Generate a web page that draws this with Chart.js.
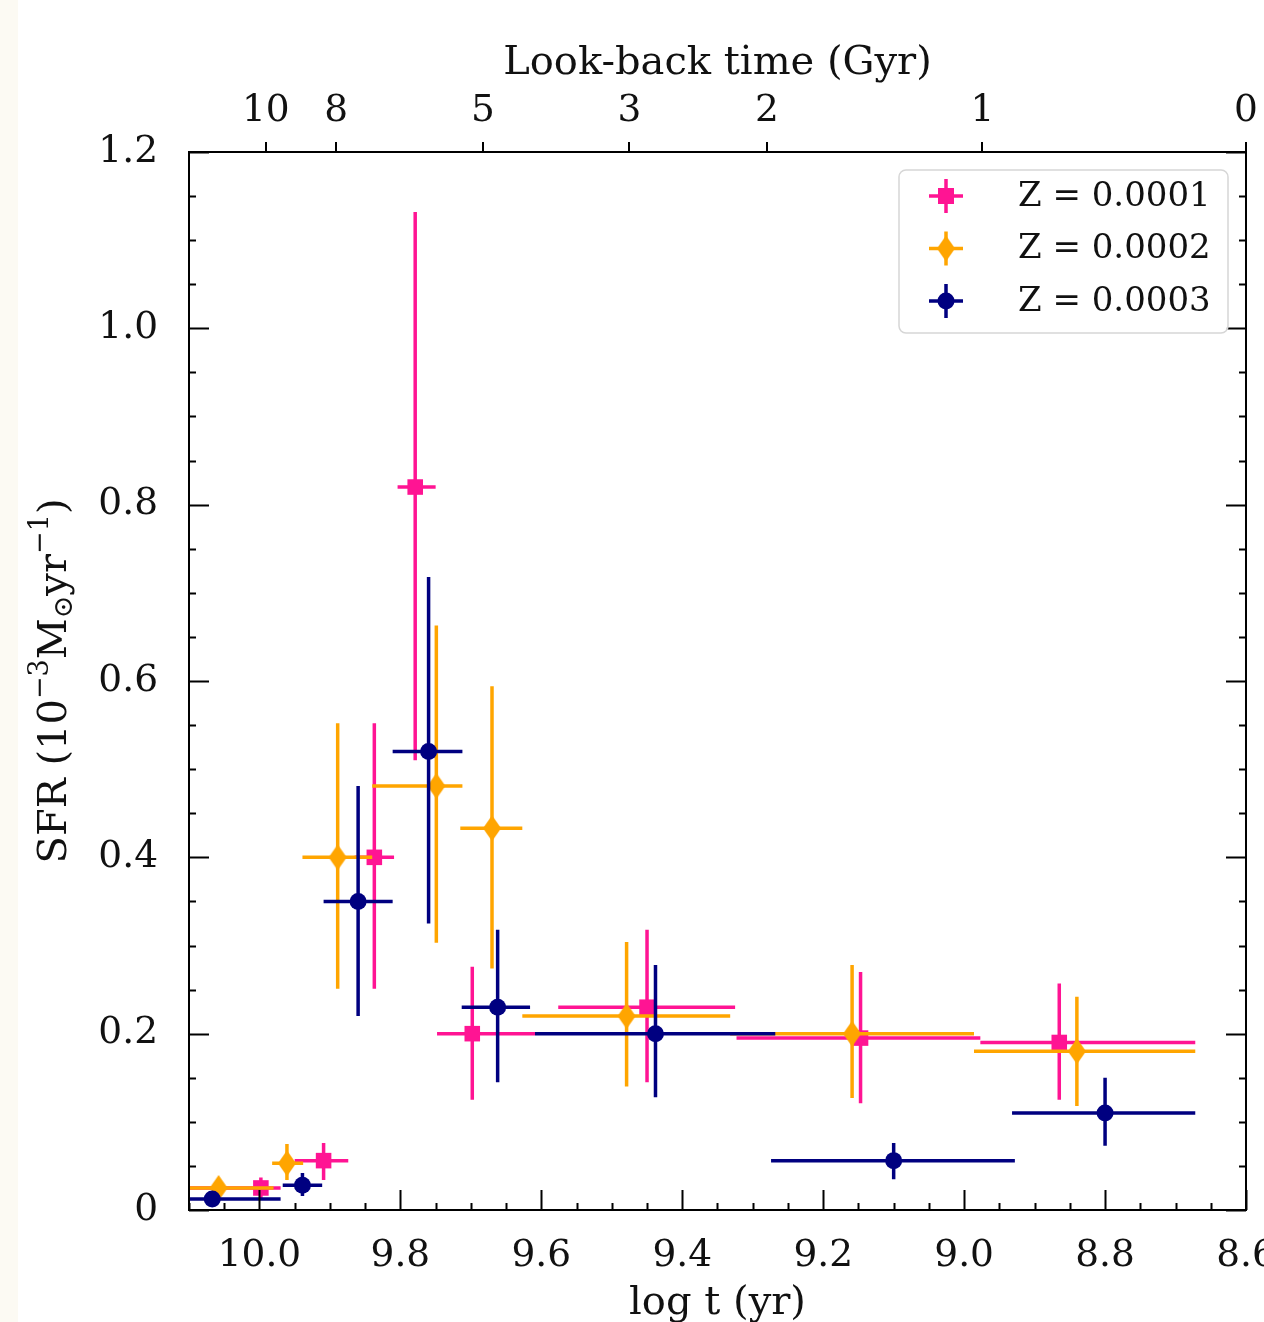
<!DOCTYPE html>
<html>
<head>
<meta charset="utf-8">
<script src="https://cdn.jsdelivr.net/npm/chart.js@4.4.1/dist/chart.umd.min.js"></script>
<style>
body{margin:0;background:#fff;overflow:hidden;}
#edge{position:absolute;left:0;top:0;width:18px;height:1322px;background:#fcfaf3;}
#wrap{position:relative;width:1264px;height:1322px;}
</style>
</head>
<body>
<div id="edge"></div>
<div id="wrap"><canvas id="sfr"></canvas></div>
<script>
var FONT = "'DejaVu Serif', serif";

//////////////////////////////////////
// axis ticks
var xMajor = [8.6, 8.8, 9.0, 9.2, 9.4, 9.6, 9.8, 10.0];
var yMajor = [0, 0.2, 0.4, 0.6, 0.8, 1.0, 1.2];
// look-back time labels and where they sit in log t
var lbLabels = ['10', '8', '5', '3', '2', '1', '0'];
var lbPos    = [9.991, 9.891, 9.683, 9.475, 9.280, 8.974, 8.6];

//////////////////////////////////////
// Z = 0.0001
var z1X   = [9.998, 9.909, 9.837, 9.779, 9.698, 9.450, 9.147, 8.865];
var z1Y   = [0.025, 0.056, 0.400, 0.820, 0.200, 0.230, 0.195, 0.190];
var z1XLo = [10.15, 9.950, 9.865, 9.804, 9.748, 9.576, 9.323, 8.977];
var z1XHi = [9.970, 9.874, 9.809, 9.750, 9.609, 9.325, 8.977, 8.672];
var z1YLo = [0.013, 0.034, 0.251, 0.510, 0.125, 0.145, 0.121, 0.125];
var z1YHi = [0.037, 0.076, 0.552, 1.132, 0.276, 0.318, 0.270, 0.257];

// Z = 0.0002
var z2X   = [10.058, 9.961, 9.889, 9.749, 9.670, 9.479, 9.159, 8.840];
var z2Y   = [0.025, 0.053, 0.400, 0.481, 0.433, 0.220, 0.200, 0.180];
var z2XLo = [10.15, 9.982, 9.939, 9.840, 9.715, 9.627, 9.332, 8.986];
var z2XHi = [9.980, 9.938, 9.840, 9.712, 9.627, 9.332, 8.986, 8.672];
var z2YLo = [0.015, 0.034, 0.251, 0.303, 0.274, 0.140, 0.127, 0.118];
var z2YHi = [0.035, 0.075, 0.552, 0.663, 0.594, 0.304, 0.278, 0.242];

// Z = 0.0003
var z3X   = [10.067, 9.939, 9.860, 9.760, 9.662, 9.438, 9.100, 8.800];
var z3Y   = [0.0125, 0.028, 0.350, 0.520, 0.230, 0.200, 0.056, 0.110];
var z3XLo = [10.16, 9.967, 9.909, 9.811, 9.713, 9.609, 9.274, 8.932];
var z3XHi = [9.970, 9.911, 9.811, 9.712, 9.616, 9.268, 8.928, 8.672];
var z3YLo = [0.005, 0.016, 0.220, 0.325, 0.145, 0.128, 0.035, 0.073];
var z3YHi = [0.020, 0.042, 0.481, 0.718, 0.318, 0.278, 0.076, 0.150];

var names  = ['Z = 0.0001', 'Z = 0.0002', 'Z = 0.0003'];
var colors = ['#ff1493', '#ffa500', '#000080'];

// thin diamond marker for the middle series
function makeDiamond(w, h, color){
	var c = document.createElement('canvas');
	c.width = w; c.height = h;
	var g = c.getContext('2d');
	g.fillStyle = color;
	g.beginPath();
	g.moveTo(w / 2, 0); g.lineTo(w, h / 2); g.lineTo(w / 2, h); g.lineTo(0, h / 2);
	g.closePath();
	g.fill();
	return c;
}
var diamond = makeDiamond(18, 26, colors[1]);

function points(xs, ys){
	var out = [];
	for (var i = 0; i < xs.length; i++)
		out.push({x: xs[i], y: ys[i]});
	return out;
}

function series(k, xs, ys, xlo, xhi, ylo, yhi, style, radius, order){
	return {
		label: names[k],
		data: points(xs, ys),
		err: {xlo: xlo, xhi: xhi, ylo: ylo, yhi: yhi},
		backgroundColor: colors[k],
		borderColor: colors[k],
		borderWidth: 0,
		pointStyle: style,
		pointRadius: radius,
		order: order
	};
}

//////////////////////////////////////
// error bars, frame, inward ticks, y label and legend
var sfrPlugin = {
	id: 'sfrPlugin',
	beforeDatasetDraw: function(chart, args){
		var ds = chart.data.datasets[args.index];
		var xs = chart.scales.x, ys = chart.scales.y, ctx = chart.ctx, a = chart.chartArea;
		ctx.save();
		ctx.beginPath();
		ctx.rect(a.left, a.top, a.right - a.left, a.bottom - a.top);
		ctx.clip();
		ctx.strokeStyle = ds.borderColor;
		ctx.lineWidth = 3.5;
		for (var i = 0; i < ds.data.length; i++){
			var px = xs.getPixelForValue(ds.data[i].x);
			var py = ys.getPixelForValue(ds.data[i].y);
			ctx.beginPath();
			ctx.moveTo(xs.getPixelForValue(ds.err.xlo[i]), py);
			ctx.lineTo(xs.getPixelForValue(ds.err.xhi[i]), py);
			ctx.moveTo(px, ys.getPixelForValue(ds.err.ylo[i]));
			ctx.lineTo(px, ys.getPixelForValue(ds.err.yhi[i]));
			ctx.stroke();
		}
		ctx.restore();
	},
	afterDatasetsDraw: function(chart){
		var xs = chart.scales.x, ys = chart.scales.y, ctx = chart.ctx, a = chart.chartArea;
		ctx.save();
		ctx.strokeStyle = '#000';
		ctx.lineWidth = 2;
		ctx.beginPath();
		// minor every 0.05, major every 0.2 on the bottom
		for (var v = 8.6; v < 10.1 + 1e-6; v += 0.05){
			var px = Math.round(xs.getPixelForValue(v)) + 0.5;
			var major = Math.abs(v * 5 - Math.round(v * 5)) < 1e-6;
			var len = major ? 20 : 7;
			ctx.moveTo(px, a.bottom);
			ctx.lineTo(px, a.bottom - len);
		}
		// left and right
		for (var w = 0; w < 1.2 + 1e-6; w += 0.05){
			var py = Math.round(ys.getPixelForValue(w)) + 0.5;
			var majorY = Math.abs(w * 5 - Math.round(w * 5)) < 1e-6;
			var lenY = majorY ? 20 : 7;
			ctx.moveTo(a.left, py); ctx.lineTo(a.left + lenY, py);
			ctx.moveTo(a.right, py); ctx.lineTo(a.right - lenY, py);
		}
		ctx.stroke();
		ctx.strokeRect(a.left, a.top, a.right - a.left, a.bottom - a.top);
		ctx.restore();
	},
	afterDraw: function(chart){
		var ctx = chart.ctx, a = chart.chartArea;
		drawYTitle(ctx, 56, (a.top + a.bottom) / 2);
		drawLegend(ctx, chart);
	}
};

// SFR (10^-3 Msun yr^-1), written along the y axis
function drawYTitle(ctx, cx, cy){
	var big = '40px ' + FONT, small = '27px ' + FONT;
	var parts = [
		['SFR (10', big, 0],
		['\u22123', small, -15],
		['M', big, 0],
		['\u2299', small, 9],
		['yr', big, 0],
		['\u22121', small, -15],
		[')', big, 0]
	];
	ctx.save();
	ctx.translate(cx, cy);
	ctx.rotate(-Math.PI / 2);
	var total = 0;
	for (var i = 0; i < parts.length; i++){
		ctx.font = parts[i][1];
		total += ctx.measureText(parts[i][0]).width;
	}
	var x = -total / 2;
	ctx.fillStyle = '#111';
	ctx.textBaseline = 'middle';
	for (var j = 0; j < parts.length; j++){
		ctx.font = parts[j][1];
		ctx.fillText(parts[j][0], x, parts[j][2]);
		x += ctx.measureText(parts[j][0]).width;
	}
	ctx.restore();
}

function roundRect(ctx, x, y, w, h, r){
	ctx.beginPath();
	ctx.moveTo(x + r, y);
	ctx.arcTo(x + w, y, x + w, y + h, r);
	ctx.arcTo(x + w, y + h, x, y + h, r);
	ctx.arcTo(x, y + h, x, y, r);
	ctx.arcTo(x, y, x + w, y, r);
	ctx.closePath();
}

function drawLegend(ctx, chart){
	var bx = 899, by = 170, bw = 329, bh = 163;
	ctx.save();
	roundRect(ctx, bx, by, bw, bh, 7);
	ctx.fillStyle = 'rgba(255,255,255,0.85)';
	ctx.fill();
	ctx.strokeStyle = '#d6d6d6';
	ctx.lineWidth = 1.5;
	ctx.stroke();
	ctx.font = '34px ' + FONT;
	ctx.textBaseline = 'middle';
	for (var i = 0; i < 3; i++){
		var cx = 946, cy = 196 + i * 52.5;
		ctx.strokeStyle = colors[i];
		ctx.lineWidth = 3.5;
		ctx.beginPath();
		ctx.moveTo(cx - 17, cy); ctx.lineTo(cx + 17, cy);
		ctx.moveTo(cx, cy - 17); ctx.lineTo(cx, cy + 17);
		ctx.stroke();
		ctx.fillStyle = colors[i];
		if (i == 0)
			ctx.fillRect(cx - 8, cy - 8, 16, 16);
		else if (i == 1)
			ctx.drawImage(diamond, cx - 9, cy - 13);
		else {
			ctx.beginPath();
			ctx.arc(cx, cy, 8.5, 0, Math.PI * 2);
			ctx.fill();
		}
		ctx.fillStyle = '#111';
		ctx.fillText(names[i], 1018, cy + 1);
	}
	ctx.restore();
}

//////////////////////////////////////
var chart = new Chart(document.getElementById('sfr'), {
	type: 'scatter',
	data: {
		datasets: [
			series(0, z1X, z1Y, z1XLo, z1XHi, z1YLo, z1YHi, 'rect', 11, 3),
			series(1, z2X, z2Y, z2XLo, z2XHi, z2YLo, z2YHi, diamond, 9, 2),
			series(2, z3X, z3Y, z3XLo, z3XHi, z3YLo, z3YHi, 'circle', 8.5, 1)
		]
	},
	options: {
		responsive: true,
		maintainAspectRatio: false,
		animation: false,
		events: [],
		layout: {padding: {left: 0, right: 18, top: 0, bottom: 0}},
		plugins: {legend: {display: false}, tooltip: {enabled: false}},
		scales: {
			x: {
				type: 'linear', position: 'bottom', reverse: true, min: 8.6, max: 10.1,
				afterBuildTicks: function(s){ s.ticks = xMajor.map(function(v){ return {value: v}; }); },
				afterFit: function(s){ s.height = 112; s.paddingLeft = 0; s.paddingRight = 0; },
				grid: {display: false, drawTicks: false},
				border: {display: false},
				ticks: {
					autoSkip: false, maxRotation: 0, padding: 24, color: '#111',
					font: {family: FONT, size: 37.5},
					callback: function(v){ return v.toFixed(1); }
				},
				title: {display: true, text: 'log t (yr)', color: '#111', font: {family: FONT, size: 40}, padding: {top: 0, bottom: -6}}
			},
			x2: {
				type: 'linear', position: 'top', reverse: true, min: 8.6, max: 10.1,
				afterBuildTicks: function(s){ s.ticks = lbPos.map(function(v){ return {value: v}; }); },
				afterFit: function(s){ s.height = 152; s.paddingLeft = 0; s.paddingRight = 0; },
				grid: {display: true, drawOnChartArea: false, drawTicks: true, tickLength: 10, color: '#000', lineWidth: 2},
				border: {display: false},
				ticks: {
					autoSkip: false, maxRotation: 0, padding: 8, color: '#111',
					font: {family: FONT, size: 37.5},
					callback: function(v, i){ return lbLabels[i]; }
				},
				title: {display: true, text: 'Look-back time (Gyr)', color: '#111', font: {family: FONT, size: 40}, padding: {top: 40, bottom: 0}}
			},
			y: {
				type: 'linear', position: 'left', min: 0, max: 1.2,
				afterBuildTicks: function(s){ s.ticks = yMajor.map(function(v){ return {value: v}; }); },
				afterFit: function(s){ s.width = 189; },
				grid: {display: false, drawTicks: false},
				border: {display: false},
				ticks: {
					padding: 31, color: '#111',
					font: {family: FONT, size: 37.5},
					callback: function(v){ return v == 0 ? '0' : v.toFixed(1); }
				}
			}
		}
	},
	plugins: [sfrPlugin]
});
</script>
</body>
</html>
